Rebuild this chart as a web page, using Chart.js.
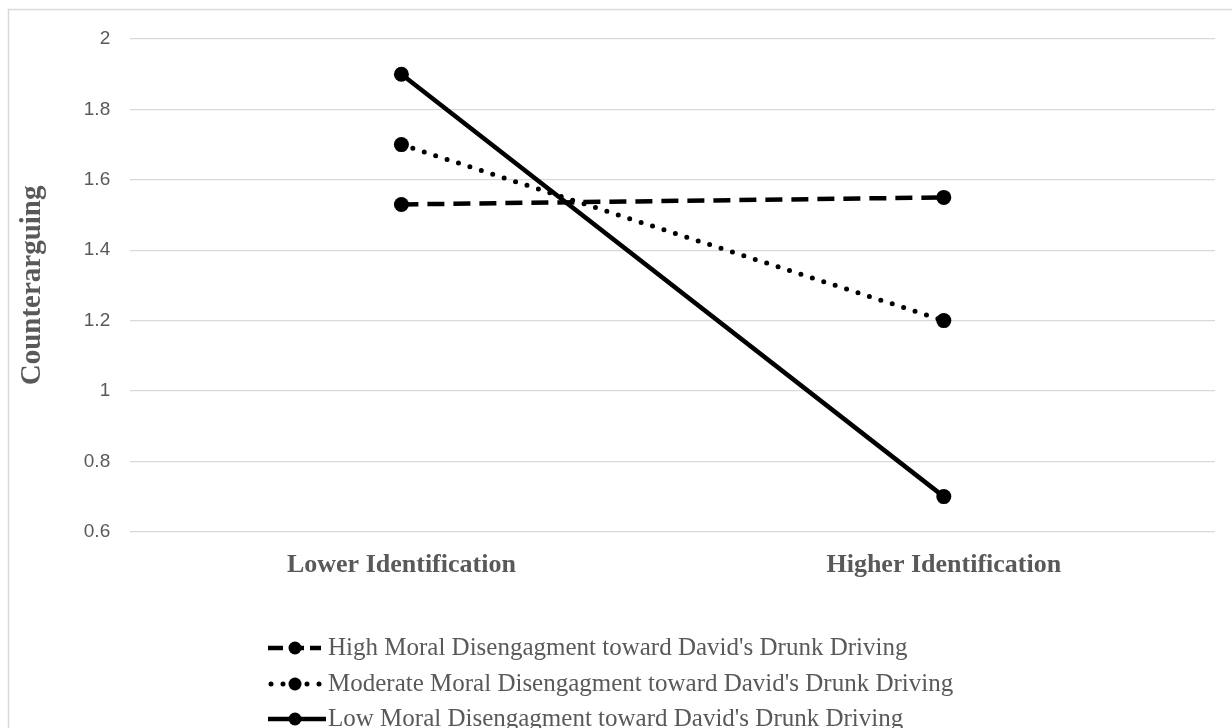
<!DOCTYPE html>
<html>
<head>
<meta charset="utf-8">
<script src="https://cdn.jsdelivr.net/npm/chart.js@4.4.0/dist/chart.umd.min.js"></script>
<style>
  html, body { margin: 0; padding: 0; background: #fff; }
  #wrap { width: 1232px; height: 728px; }
</style>
</head>
<body>
<div id="wrap"><canvas id="chart"></canvas></div>
<script>
var categories = ["Lower Identification", "Higher Identification"];
var seriesNames = [
    "High Moral Disengagment toward David's Drunk Driving",
    "Moderate Moral Disengagment toward David's Drunk Driving",
    "Low Moral Disengagment toward David's Drunk Driving"
];
var highValues = [1.53, 1.55];
var moderateValues = [1.7, 1.2];
var lowValues = [1.9, 0.7];
var yTicks = [0.6, 0.8, 1, 1.2, 1.4, 1.6, 1.8, 2];

var grey = "#595959";
var serif = "'Liberation Serif', 'Times New Roman', serif";
var dashes = [[17, 9], [0, 12], []];
var widths = [4.5, 5, 4.5];

function makeDataset(i, values) {
    return {
        label: seriesNames[i],
        data: values,
        borderColor: "#000",
        backgroundColor: "#000",
        borderWidth: widths[i],
        borderDash: dashes[i],
        borderCapStyle: i == 1 ? "round" : "butt",
        pointRadius: 7.5,
        pointHoverRadius: 7.5,
        pointBorderWidth: 0,
        tension: 0
    };
}

// legend drawn by hand: short line with marker, one row per series
var legendPlugin = {
    id: "stackedLegend",
    afterDraw: function(chart) {
        var ctx = chart.ctx;
        var x0 = 268, rowY = [648, 684, 719];
        var legendDash = [[15, 6], [0, 12], []];
        ctx.save();
        chart.data.datasets.forEach(function(ds, i) {
            var y = rowY[i];
            ctx.strokeStyle = "#000";
            ctx.lineWidth = ds.borderWidth;
            ctx.lineCap = ds.borderCapStyle;
            ctx.setLineDash(legendDash[i]);
            ctx.beginPath();
            if (i == 1) {
                ctx.moveTo(271, y); ctx.lineTo(284, y);
                ctx.moveTo(307, y); ctx.lineTo(320, y);
            } else {
                ctx.moveTo(x0, y);
                ctx.lineTo(x0 + (i == 0 ? 53 : 58), y);
            }
            ctx.stroke();
            ctx.setLineDash([]);
            ctx.fillStyle = "#000";
            ctx.beginPath();
            ctx.arc(x0 + 27, y, 6.5, 0, Math.PI * 2);
            ctx.fill();
            ctx.fillStyle = grey;
            ctx.font = "25px " + serif;
            ctx.textBaseline = "middle";
            ctx.textAlign = "left";
            ctx.fillText(ds.label, 328, y);
        });
        ctx.restore();
    }
};

var framePlugin = {
    id: "frame",
    beforeDraw: function(chart) {
        var ctx = chart.ctx;
        ctx.save();
        ctx.fillStyle = "#fff";
        ctx.fillRect(0, 0, chart.width, chart.height);
        ctx.strokeStyle = "#d9d9d9";
        ctx.lineWidth = 1.5;
        ctx.beginPath();
        ctx.moveTo(8.5, chart.height + 5);
        ctx.lineTo(8.5, 9.5);
        ctx.lineTo(chart.width + 5, 9.5);
        ctx.stroke();
        ctx.restore();
    }
};

var ctx = document.getElementById("chart");
var chart = new Chart(ctx, {
    type: "line",
    data: {
        labels: categories,
        datasets: [
            makeDataset(0, highValues),
            makeDataset(1, moderateValues),
            makeDataset(2, lowValues)
        ]
    },
    plugins: [framePlugin, legendPlugin],
    options: {
        responsive: true,
        maintainAspectRatio: false,
        animation: false,
        layout: {
            padding: { top: 39, right: 17, bottom: 129, left: 15 }
        },
        plugins: {
            legend: { display: false },
            tooltip: { enabled: false }
        },
        scales: {
            x: {
                offset: true,
                grid: { display: false, drawTicks: false },
                border: { display: false },
                ticks: {
                    color: grey,
                    padding: 18,
                    font: { family: serif, size: 26, weight: "bold" }
                }
            },
            y: {
                min: 0.6,
                max: 2,
                afterBuildTicks: function(axis) {
                    axis.ticks = yTicks.map(function(v) { return { value: v }; });
                },
                grid: { color: "#d9d9d9", lineWidth: 1.3, drawTicks: false },
                border: { display: false },
                ticks: {
                    color: grey,
                    padding: 20,
                    font: { family: "'Liberation Sans', Arial, sans-serif", size: 19 },
                    callback: function(v) { return String(Math.round(v * 10) / 10); }
                },
                title: {
                    display: true,
                    text: "Counterarguing",
                    color: grey,
                    padding: { top: 0, bottom: 14 },
                    font: { family: serif, size: 29, weight: "bold" }
                }
            }
        }
    }
});
</script>
</body>
</html>
